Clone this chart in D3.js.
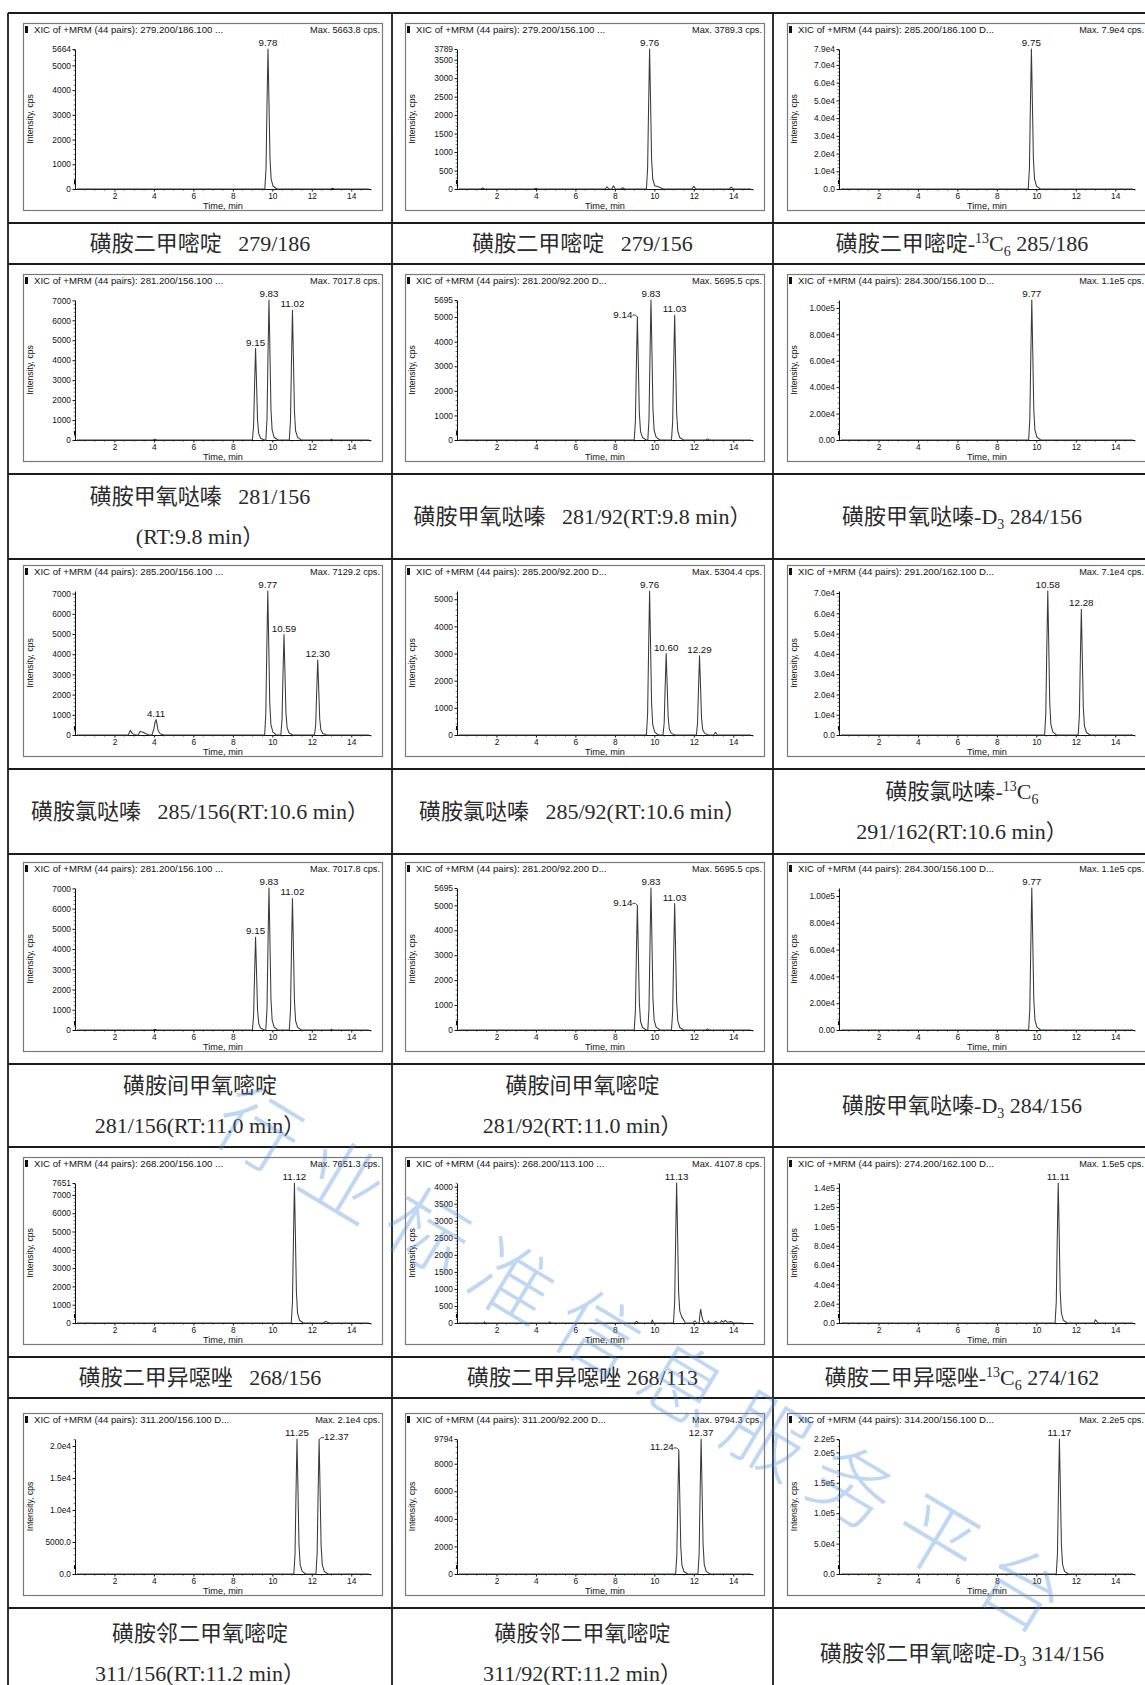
<!DOCTYPE html>
<html>
<head>
<meta charset="utf-8">
<script src="https://cdn.jsdelivr.net/npm/d3@7"></script>
<style>
  html, body { margin: 0; padding: 0; background: #fff; }
  svg { display: block; }
</style>
</head>
<body>
<svg id="fig" width="1145" height="1685"></svg>
<script>
// ---------- extracted-ion chromatograms: [time (min), intensity (cps)] ----------
const t279_186 = [[0.1,0],[9.62,0],[9.68,850],[9.73,3400],[9.78,5664],[9.83,3510],[9.88,1250],[9.94,400],[10.04,110],[10.23,0],[12.95,0],[13.05,30],[13.15,0],[14.9,0]];
const t279_156 = [[0.1,0],[1.2,0],[1.3,25],[1.4,0],[3.9,0],[4.0,20],[4.1,0],[7.5,0],[7.6,60],[7.7,0],[7.85,0],[7.93,85],[8.02,0],[8.3,0],[8.4,35],[8.5,0],[9.60,0],[9.66,570],[9.71,2270],[9.76,3789],[9.81,2350],[9.86,830],[9.92,265],[10.02,90],[10.15,70],[10.3,40],[10.45,0],[11.9,0],[12.0,70],[12.1,0],[13.8,0],[13.9,50],[14.0,0],[14.9,0]];
const t285_186 = [[0.1,0],[9.59,0],[9.65,11850],[9.70,47400],[9.75,79000],[9.80,49000],[9.85,17400],[9.91,5530],[10.01,1580],[10.20,0],[14.9,0]];
const t281_156 = [[0.1,0],[3.95,0],[4.05,40],[4.15,0],[8.99,0],[9.05,690],[9.10,2750],[9.15,4580],[9.20,2840],[9.25,1010],[9.31,320],[9.41,90],[9.60,0],[9.67,0],[9.73,1050],[9.78,4210],[9.83,7018],[9.88,4350],[9.93,1540],[9.99,490],[10.09,140],[10.28,0],[10.86,0],[10.92,975],[10.97,3900],[11.02,6500],[11.07,4030],[11.12,1430],[11.18,455],[11.28,130],[11.47,0],[12.95,0],[13.0,35],[13.05,0],[14.9,0]];
const t281_92 = [[0.1,0],[8.98,0],[9.04,750],[9.09,3000],[9.14,5000],[9.19,3100],[9.24,1100],[9.30,350],[9.40,100],[9.59,0],[9.67,0],[9.73,855],[9.78,3420],[9.83,5695],[9.88,3530],[9.93,1250],[9.99,400],[10.09,115],[10.28,0],[10.87,0],[10.93,760],[10.98,3040],[11.03,5070],[11.08,3140],[11.13,1115],[11.19,355],[11.29,100],[11.48,0],[12.6,0],[12.7,45],[12.8,0],[14.9,0]];
const t284_156 = [[0.1,0],[9.61,0],[9.67,15900],[9.72,63600],[9.77,106000],[9.82,65700],[9.87,23300],[9.93,7420],[10.03,2120],[10.22,0],[14.9,0]];
const t285_156 = [[0.1,0],[2.7,0],[2.8,230],[2.9,80],[3.0,30],[3.1,0],[3.2,0],[3.3,170],[3.45,140],[3.6,60],[3.75,0],[3.9,0],[4.0,300],[4.06,650],[4.11,760],[4.16,500],[4.22,200],[4.32,60],[4.5,0],[9.61,0],[9.67,1070],[9.72,4280],[9.77,7129],[9.82,4420],[9.87,1570],[9.93,500],[10.03,140],[10.2,0],[10.43,0],[10.49,750],[10.54,2985],[10.59,4975],[10.64,3085],[10.69,1095],[10.75,350],[10.85,100],[11.04,0],[12.14,0],[12.20,560],[12.25,2225],[12.30,3710],[12.35,2300],[12.40,815],[12.46,260],[12.56,75],[12.75,0],[14.9,0]];
const t285_92 = [[0.1,0],[9.60,0],[9.66,795],[9.71,3180],[9.76,5304],[9.81,3290],[9.86,1165],[9.92,370],[10.02,105],[10.2,0],[10.44,0],[10.50,450],[10.55,1800],[10.60,3000],[10.65,1860],[10.70,660],[10.76,210],[10.86,60],[11.05,0],[12.13,0],[12.19,440],[12.24,1750],[12.29,2920],[12.34,1810],[12.39,640],[12.45,205],[12.55,60],[12.74,0],[13.0,0],[13.1,100],[13.2,0],[14.9,0]];
const t291_162 = [[0.1,0],[10.42,0],[10.48,10650],[10.53,42600],[10.58,71000],[10.63,44000],[10.68,15600],[10.74,4970],[10.84,1420],[11.03,0],[12.12,0],[12.18,9300],[12.23,37200],[12.28,62000],[12.33,38400],[12.38,13600],[12.44,4340],[12.54,1240],[12.73,0],[14.9,0]];
const t268_156 = [[0.1,0],[10.96,0],[11.02,1150],[11.07,4590],[11.12,7651],[11.17,4740],[11.22,1680],[11.28,535],[11.38,150],[11.57,0],[12.6,0],[12.7,90],[12.8,40],[12.9,0],[14.9,0]];
const t268_113 = [[0.1,0],[1.35,0],[1.4,30],[1.45,0],[4.65,0],[4.7,30],[4.75,0],[9.0,0],[9.1,50],[9.2,0],[9.85,0],[9.9,90],[9.95,0],[10.97,0],[11.03,615],[11.08,2465],[11.13,4108],[11.18,2550],[11.23,900],[11.29,350],[11.39,180],[11.58,0],[11.95,0],[12.05,60],[12.15,0],[12.27,0],[12.32,300],[12.35,400],[12.40,220],[12.46,80],[12.55,0],[12.7,0],[12.75,60],[12.8,0],[13.05,0],[13.1,50],[13.2,0],[13.35,0],[13.4,70],[13.5,20],[13.6,80],[13.7,20],[13.9,40],[14.0,0],[14.5,0]];
const t274_162 = [[0.1,0],[10.95,0],[11.01,21750],[11.06,87000],[11.11,145000],[11.16,90000],[11.21,31900],[11.27,10150],[11.37,2900],[11.56,0],[12.92,0],[13.0,3400],[13.08,1200],[13.15,0],[14.9,0]];
const t311_156 = [[0.1,0],[11.09,0],[11.15,3165],[11.20,12660],[11.25,21100],[11.30,13080],[11.35,4640],[11.41,1480],[11.51,420],[11.7,0],[12.21,0],[12.27,3150],[12.32,12600],[12.37,21000],[12.42,13020],[12.47,4620],[12.53,1470],[12.63,420],[12.82,0],[14.9,0]];
const t311_92 = [[0.1,0],[11.08,0],[11.14,1350],[11.19,5400],[11.24,9000],[11.29,5580],[11.34,1980],[11.40,630],[11.50,180],[11.69,0],[12.21,0],[12.27,1470],[12.32,5880],[12.37,9794],[12.42,6070],[12.47,2150],[12.53,685],[12.63,195],[12.82,0],[14.9,0]];
const t314_156 = [[0.1,0],[11.01,0],[11.07,33300],[11.12,133200],[11.17,222000],[11.22,137600],[11.27,48800],[11.33,15500],[11.43,4400],[11.62,0],[14.9,0]];

const traces = [t279_186, t279_156, t285_186, t281_156, t281_92, t284_156, t285_156, t285_92, t291_162, t268_156, t268_113, t274_162, t311_156, t311_92, t314_156];

// transition text in each chromatogram header
const xicTransitions = ["279.200/186.100 ...", "279.200/156.100 ...", "285.200/186.100 D...",
  "281.200/156.100 ...", "281.200/92.200 D...", "284.300/156.100 D...",
  "285.200/156.100 ...", "285.200/92.200 D...", "291.200/162.100 D...",
  "268.200/156.100 ...", "268.200/113.100 ...", "274.200/162.100 D...",
  "311.200/156.100 D...", "311.200/92.200 D...", "314.200/156.100 D..."];
const maxIntensity = ["5663.8 cps.", "3789.3 cps.", "7.9e4 cps.", "7017.8 cps.", "5695.5 cps.", "1.1e5 cps.",
  "7129.2 cps.", "5304.4 cps.", "7.1e4 cps.", "7651.3 cps.", "4107.8 cps.", "1.5e5 cps.",
  "2.1e4 cps.", "9794.3 cps.", "2.2e5 cps."];

// intensity axis: top of scale, tick values, tick labels
const yTop = [5664, 3789, 79000, 7018, 5695, 106000, 7129, 5304, 71000, 7651, 4108, 145000, 21100, 9794, 222000];
const yTopLabel = ["5664", "3789", "7.9e4", "", "5695", "", "", "", "", "7651", "", "", "", "9794", "2.2e5"];
const yTickValues = [
  [0,1000,2000,3000,4000,5000],
  [0,500,1000,1500,2000,2500,3000,3500],
  [0,10000,20000,30000,40000,50000,60000,70000],
  [0,1000,2000,3000,4000,5000,6000,7000],
  [0,1000,2000,3000,4000,5000],
  [0,20000,40000,60000,80000,100000],
  [0,1000,2000,3000,4000,5000,6000,7000],
  [0,1000,2000,3000,4000,5000],
  [0,10000,20000,30000,40000,50000,60000,70000],
  [0,1000,2000,3000,4000,5000,6000,7000],
  [0,500,1000,1500,2000,2500,3000,3500,4000],
  [0,20000,40000,60000,80000,100000,120000,140000],
  [0,5000,10000,15000,20000],
  [0,2000,4000,6000,8000],
  [0,50000,100000,150000,200000]
];
const yTickLabels = [
  ["0","1000","2000","3000","4000","5000"],
  ["0","500","1000","1500","2000","2500","3000","3500"],
  ["0.0","1.0e4","2.0e4","3.0e4","4.0e4","5.0e4","6.0e4","7.0e4"],
  ["0","1000","2000","3000","4000","5000","6000","7000"],
  ["0","1000","2000","3000","4000","5000"],
  ["0.00","2.00e4","4.00e4","6.00e4","8.00e4","1.00e5"],
  ["0","1000","2000","3000","4000","5000","6000","7000"],
  ["0","1000","2000","3000","4000","5000"],
  ["0.0","1.0e4","2.0e4","3.0e4","4.0e4","5.0e4","6.0e4","7.0e4"],
  ["0","1000","2000","3000","4000","5000","6000","7000"],
  ["0","500","1000","1500","2000","2500","3000","3500","4000"],
  ["0.0","2.0e4","4.0e4","6.0e4","8.0e4","1.0e5","1.2e5","1.4e5"],
  ["0.0","5000.0","1.0e4","1.5e4","2.0e4"],
  ["0","2000","4000","6000","8000"],
  ["0.0","5.0e4","1.0e5","1.5e5","2.0e5"]
];
const xTickValues = [2, 4, 6, 8, 10, 12, 14];

// retention-time labels: [rt, side] (side: "" centred, "L" left with leader, "R" right with leader)
const peakLabels = [
  [[9.78,""]],
  [[9.76,""]],
  [[9.75,""]],
  [[9.15,""],[9.83,""],[11.02,""]],
  [[9.14,"L"],[9.83,""],[11.03,""]],
  [[9.77,""]],
  [[4.11,""],[9.77,""],[10.59,""],[12.30,""]],
  [[9.76,""],[10.60,""],[12.29,""]],
  [[10.58,""],[12.28,""]],
  [[11.12,""]],
  [[11.13,""]],
  [[11.11,""]],
  [[11.25,""],[12.37,"R"]],
  [[11.24,"L"],[12.37,""]],
  [[11.17,""]]
];

// table: which chromatogram sits in each cell, and the caption under it
const gridPanels = [[0,1,2],[3,4,5],[6,7,8],[3,4,5],[9,10,11],[12,13,14]];
const captions = [
  [["磺胺二甲嘧啶   279/186"], ["磺胺二甲嘧啶   279/156"], ["磺胺二甲嘧啶-^13C_6 285/186"]],
  [["磺胺甲氧哒嗪   281/156", "(RT:9.8 min）"], ["磺胺甲氧哒嗪   281/92(RT:9.8 min）"], ["磺胺甲氧哒嗪-D_3 284/156"]],
  [["磺胺氯哒嗪   285/156(RT:10.6 min）"], ["磺胺氯哒嗪   285/92(RT:10.6 min）"], ["磺胺氯哒嗪-^13C_6", "291/162(RT:10.6 min）"]],
  [["磺胺间甲氧嘧啶", "281/156(RT:11.0 min）"], ["磺胺间甲氧嘧啶", "281/92(RT:11.0 min）"], ["磺胺甲氧哒嗪-D_3 284/156"]],
  [["磺胺二甲异噁唑   268/156"], ["磺胺二甲异噁唑 268/113"], ["磺胺二甲异噁唑-^13C_6 274/162"]],
  [["磺胺邻二甲氧嘧啶", "311/156(RT:11.2 min）"], ["磺胺邻二甲氧嘧啶", "311/92(RT:11.2 min）"], ["磺胺邻二甲氧嘧啶-D_3 314/156"]]
];

// ---------- layout ----------
const colX = [8, 392, 773, 1157];
const rowTop = [13, 264, 559, 854, 1147, 1398];
const chartCellH = 210;
const captionH = [41, 85, 85, 83, 41, 90];
const frameTopOffset = [10, 10, 6, 8, 10, 15];
const frameLeftOffset = [15, 13, 14];
const frameW = 359;

const SANS = "'Liberation Sans', Arial, Helvetica, sans-serif";
const SERIF = "'Liberation Serif', 'Times New Roman', 'Noto Sans CJK SC', serif";

const svg = d3.select("#fig");
svg.append("rect").attr("width", 1145).attr("height", 1685).attr("fill", "#fff");

const gridG = svg.append("g");
const chartsG = svg.append("g");
const capG = svg.append("g");

// table rules
const hLines = [];
rowTop.forEach((t, i) => { hLines.push(t, t + chartCellH); });
hLines.push(rowTop[5] + chartCellH + captionH[5]);
gridG.selectAll("line.h").data(hLines).join("line")
  .attr("x1", colX[0]).attr("x2", colX[3])
  .attr("y1", d => d).attr("y2", d => d)
  .attr("stroke", "#1c1c1c").attr("stroke-width", 1.8);
gridG.selectAll("line.v").data(colX).join("line")
  .attr("x1", d => d).attr("x2", d => d)
  .attr("y1", rowTop[0]).attr("y2", 1700)
  .attr("stroke", "#1c1c1c").attr("stroke-width", 1.8);

function drawChromatogram(g, p, fx, fy, fh) {
  const data = traces[p];
  const axisY = fy + fh - 21;
  const topY = fy + 26;
  const x = d3.scaleLinear().domain([0, 15]).range([fx + 52, fx + 348]);
  const y = d3.scaleLinear().domain([0, yTop[p]]).range([axisY, topY]);

  // frame
  g.append("rect").attr("x", fx + 0.5).attr("y", fy + 0.5)
    .attr("width", frameW).attr("height", fh)
    .attr("fill", "#fff").attr("stroke", "#7a7a7a").attr("stroke-width", 1.2);

  // header
  g.append("rect").attr("x", fx + 2).attr("y", fy + 3).attr("width", 3).attr("height", 7).attr("fill", "#111");
  g.append("text").attr("x", fx + 11).attr("y", fy + 10)
    .attr("font-family", SANS).attr("font-size", 9.6).attr("fill", "#111")
    .text("XIC of +MRM (44 pairs): " + xicTransitions[p]);
  g.append("text").attr("x", fx + frameW - 2).attr("y", fy + 10)
    .attr("text-anchor", "end")
    .attr("font-family", SANS).attr("font-size", 9.2).attr("fill", "#111")
    .text("Max. " + maxIntensity[p]);

  // time axis
  const xMinor = d3.range(0.5, 15.01, 0.5).filter(v => v % 2 !== 0);
  g.append("g").selectAll("line").data(xMinor).join("line")
    .attr("x1", d => x(d)).attr("x2", d => x(d))
    .attr("y1", axisY).attr("y2", axisY + 1.6)
    .attr("stroke", "#222").attr("stroke-width", 0.7);
  const xa = g.append("g").attr("transform", `translate(0,${axisY})`)
    .call(d3.axisBottom(x).tickValues(xTickValues).tickSize(2.5).tickSizeOuter(0).tickPadding(1.5));
  xa.select(".domain").attr("stroke", "#111").attr("d", `M${fx + 51},0.5H${x(15)}`);
  xa.selectAll(".tick line").attr("stroke", "#111");
  xa.selectAll("text").attr("font-family", SANS).attr("font-size", 8.4).attr("fill", "#111");

  // intensity axis
  const step = yTickValues[p][1];
  const yMinor = d3.range(0, yTop[p], step / 5).filter(v => Math.abs(v / step - Math.round(v / step)) > 1e-6);
  g.append("g").selectAll("line").data(yMinor).join("line")
    .attr("x1", fx + 52 - 1.4).attr("x2", fx + 52)
    .attr("y1", d => y(d)).attr("y2", d => y(d))
    .attr("stroke", "#333").attr("stroke-width", 0.7);
  const vals = yTickValues[p].slice();
  const labs = yTickLabels[p].slice();
  if (yTopLabel[p]) { vals.push(yTop[p]); labs.push(yTopLabel[p]); }
  const ya = g.append("g").attr("transform", `translate(${fx + 52},0)`)
    .call(d3.axisLeft(y).tickValues(vals).tickFormat((d, i) => labs[i]).tickSize(2.5).tickSizeOuter(0).tickPadding(1.5));
  ya.select(".domain").attr("stroke", "#111");
  ya.selectAll(".tick line").attr("stroke", "#111");
  ya.selectAll("text").attr("font-family", SANS).attr("font-size", 8.4).attr("fill", "#111");

  // trace start marker on the intensity axis
  g.append("rect").attr("x", fx + 51).attr("y", axisY - 9).attr("width", 1.6).attr("height", 4).attr("fill", "#111");

  // axis titles
  g.append("text")
    .attr("transform", `translate(${fx + 10},${(axisY + topY) / 2}) rotate(-90)`)
    .attr("text-anchor", "middle")
    .attr("font-family", SANS).attr("font-size", 8.6).attr("fill", "#111")
    .text("Intensity, cps");
  g.append("text").attr("x", fx + 200).attr("y", fy + fh - 1.5)
    .attr("text-anchor", "middle")
    .attr("font-family", SANS).attr("font-size", 9.2).attr("fill", "#111")
    .text("Time, min");

  // chromatogram trace
  const line = d3.line().x(d => x(d[0])).y(d => y(d[1]));
  g.append("path").datum(data).attr("d", line)
    .attr("fill", "none").attr("stroke", "#3a3a3a").attr("stroke-width", 1.05)
    .attr("stroke-linejoin", "round");

  // retention-time labels at each apex
  peakLabels[p].forEach(([rt, side]) => {
    const apex = data.reduce((a, b) => Math.abs(b[0] - rt) < Math.abs(a[0] - rt) ? b : a);
    const ax = x(apex[0]), ay = y(apex[1]);
    const txt = rt.toFixed(2);
    const t = g.append("text").attr("font-family", SANS).attr("font-size", 9.8).attr("fill", "#111").text(txt);
    if (side === "L") {
      t.attr("x", ax - 5).attr("y", ay + 0.5).attr("text-anchor", "end");
      g.append("path").attr("d", `M${ax - 5},${ay - 2}L${ax - 2},${ay - 2}L${ax},${ay}`)
        .attr("fill", "none").attr("stroke", "#222").attr("stroke-width", 0.8);
    } else if (side === "R") {
      t.attr("x", ax + 5).attr("y", ay + 0.5).attr("text-anchor", "start");
      g.append("path").attr("d", `M${ax},${ay}L${ax + 2},${ay - 2}L${ax + 5},${ay - 2}`)
        .attr("fill", "none").attr("stroke", "#222").attr("stroke-width", 0.8);
    } else {
      t.attr("x", ax).attr("y", ay - 3).attr("text-anchor", "middle");
    }
  });
}

function drawCaption(g, cx, cy, lines) {
  const gap = 40, fs = 22;
  lines.forEach((ln, i) => {
    const by = cy + (i - (lines.length - 1) / 2) * gap + fs * 0.36;
    const t = g.append("text").attr("x", cx).attr("y", by)
      .attr("text-anchor", "middle").attr("font-family", SERIF)
      .attr("font-size", fs).attr("fill", "#2a2a2a")
      .style("white-space", "pre");
    let shift = 0;
    ln.split(/(\^\d+|_\d+)/).forEach(part => {
      if (!part) return;
      if (part[0] === "^") {
        t.append("tspan").attr("dy", -8 - shift).attr("font-size", 14).text(part.slice(1));
        shift = -8;
      } else if (part[0] === "_") {
        t.append("tspan").attr("dy", 5 - shift).attr("font-size", 14).text(part.slice(1));
        shift = 5;
      } else {
        t.append("tspan").attr("dy", -shift).text(part);
        shift = 0;
      }
    });
  });
}

gridPanels.forEach((row, r) => {
  const fy = rowTop[r] + frameTopOffset[r];
  const fh = chartCellH - frameTopOffset[r] - 13;
  row.forEach((p, c) => {
    const fx = colX[c] + frameLeftOffset[c];
    drawChromatogram(chartsG.append("g"), p, fx, fy, fh);
    const capCY = rowTop[r] + chartCellH + captionH[r] / 2;
    const capCX = c === 2 ? 962 : (colX[c] + colX[c + 1]) / 2;
    drawCaption(capG, capCX, capCY, captions[r][c]);
  });
});

// site watermark laid diagonally across the lower half
svg.append("text")
  .attr("transform", "translate(226,1104) rotate(31)")
  .attr("dominant-baseline", "central")
  .attr("font-family", "'Noto Sans CJK SC', sans-serif")
  .attr("font-size", 82).attr("font-weight", 300)
  .attr("letter-spacing", 17)
  .attr("fill", "#4f8fe0").attr("fill-opacity", 0.36)
  .text("行业标准信息服务平台");
</script>
</body>
</html>
